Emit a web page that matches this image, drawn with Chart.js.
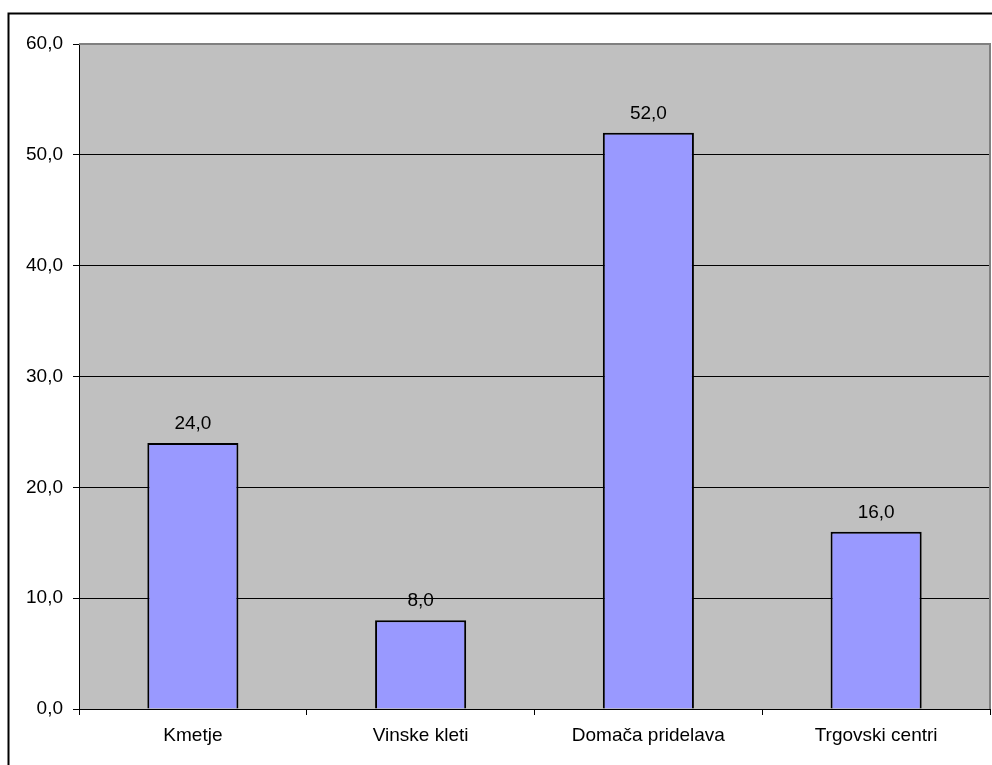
<!DOCTYPE html>
<html>
<head>
<meta charset="utf-8">
<script src="https://cdn.jsdelivr.net/npm/chart.js@4/dist/chart.umd.min.js"></script>
<style>
  html, body { margin: 0; padding: 0; background: #fff; }
  #wrap { width: 992px; height: 765px; position: relative; }
</style>
</head>
<body>
<div id="wrap"><canvas id="chart" width="992" height="765"></canvas></div>
<script>
// podatki
const categories = ['Kmetje', 'Vinske kleti', 'Domača pridelava', 'Trgovski centri'];
const values = [24.0, 8.0, 52.0, 16.0];
const yMin = 0;
const yMax = 60;
const yStep = 10;

const fmt = v => v.toFixed(1).replace('.', ',');

Chart.defaults.font.family = '"Liberation Sans", Arial, sans-serif';
Chart.defaults.font.size = 19;
Chart.defaults.color = '#000';

// ozadje, okvir in oznake vrednosti
const plotDeco = {
  id: 'plotDeco',
  beforeDraw(chart) {
    const ctx = chart.ctx;
    const a = chart.chartArea;
    ctx.save();
    ctx.fillStyle = '#fff';
    ctx.fillRect(0, 0, chart.width, chart.height);
    ctx.strokeStyle = '#000';
    ctx.lineWidth = 2;
    ctx.strokeRect(8.5, 13.5, 3000, 3000);
    ctx.fillStyle = '#c0c0c0';
    ctx.fillRect(a.left, a.top, a.right - a.left, a.bottom - a.top);
    ctx.restore();
  },
  afterDraw(chart) {
    const ctx = chart.ctx;
    const a = chart.chartArea;
    ctx.save();
    ctx.strokeStyle = '#808080';
    ctx.lineWidth = 2;
    ctx.beginPath();
    ctx.moveTo(a.left, a.top);
    ctx.lineTo(a.right, a.top);
    ctx.lineTo(a.right, a.bottom);
    ctx.stroke();
    ctx.restore();
  },
  afterDatasetsDraw(chart) {
    const ctx = chart.ctx;
    const meta = chart.getDatasetMeta(0);
    ctx.save();
    ctx.fillStyle = '#000';
    ctx.font = '19px "Liberation Sans", Arial, sans-serif';
    ctx.textAlign = 'center';
    ctx.textBaseline = 'alphabetic';
    meta.data.forEach((bar, i) => {
      ctx.fillText(fmt(values[i]), bar.x, bar.y - 14);
    });
    ctx.restore();
  }
};

new Chart(document.getElementById('chart'), {
  type: 'bar',
  data: {
    labels: categories,
    datasets: [{
      data: values,
      backgroundColor: '#9999ff',
      borderColor: '#000',
      borderWidth: 2,
      barPercentage: 0.4,
      categoryPercentage: 1
    }]
  },
  options: {
    responsive: false,
    animation: false,
    layout: { padding: { top: 44, right: 2, left: 0, bottom: 0 } },
    plugins: { legend: { display: false }, tooltip: { enabled: false } },
    scales: {
      x: {
        offset: true,
        grid: {
          offset: true,
          drawOnChartArea: false,
          drawTicks: true,
          tickLength: 6,
          tickColor: '#000'
        },
        border: { color: '#000', width: 1 },
        ticks: { padding: 9, maxRotation: 0 },
        afterFit(scale) { scale.height = 56; }
      },
      y: {
        min: yMin,
        max: yMax,
        ticks: {
          stepSize: yStep,
          padding: 10,
          callback: v => fmt(v)
        },
        grid: {
          color: c => (c.tick && c.tick.value === yMax) ? 'rgba(0,0,0,0)' : '#000',
          tickColor: '#000',
          tickLength: 6,
          lineWidth: 1
        },
        border: { color: '#000', width: 1 },
        afterFit(scale) { scale.width = 79; }
      }
    }
  },
  plugins: [plotDeco]
});
</script>
</body>
</html>
